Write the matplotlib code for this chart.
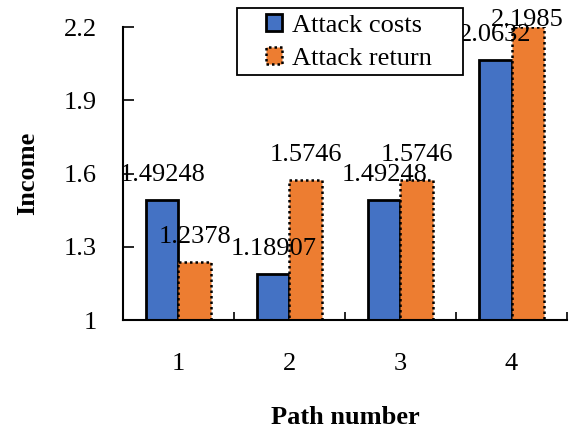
import matplotlib
matplotlib.use("Agg")
import matplotlib.pyplot as plt
from matplotlib.patches import Rectangle
import numpy as np

paths = ["1", "2", "3", "4"]
attack_costs = [1.49248, 1.18907, 1.49248, 2.0632]
attack_return = [1.2378, 1.5746, 1.5746, 2.1985]
cost_labels = ["1.49248", "1.18907", "1.49248", "2.0632"]
return_labels = ["1.2378", "1.5746", "1.5746", "2.1985"]
y_ticks = [1, 1.3, 1.6, 1.9, 2.2]
y_tick_labels = ["1", "1.3", "1.6", "1.9", "2.2"]

plt.rcParams["font.family"] = ["Liberation Serif", "DejaVu Serif"]

fig = plt.figure(figsize=(5.71, 4.28), dpi=100)
ax = fig.add_axes([0.2154, 0.2523, 0.7776, 0.6846])

x = np.arange(len(paths))
w = 0.29
blue = "#4472C4"
orange = "#ED7D31"

ax.bar(x - w / 2, [v - 1 for v in attack_costs], w, bottom=1,
       color=blue, edgecolor="black", linewidth=2.0, label="Attack costs")
ax.bar(x + w / 2, [v - 1 for v in attack_return], w, bottom=1,
       color=orange, edgecolor="black", linewidth=1.8, linestyle=(0, (1, 1.2)),
       label="Attack return")

ax.set_xlim(-0.5, len(paths) - 0.5)
ax.set_ylim(1, 2.2)

# value labels sit 19 px above each bar, but never run past the top of the figure
fig_h_px = fig.get_figheight() * fig.dpi
max_baseline = fig_h_px - 26


def label_bar(xi, v, t):
    top_px = ax.transData.transform((xi, v))[1]
    off = min(19, max_baseline - top_px)
    ax.annotate(t, (xi, v), xytext=(0, off), textcoords="offset pixels",
                ha="center", va="baseline", fontsize=19)


for xi, v, t in zip(x - w / 2, attack_costs, cost_labels):
    label_bar(xi, v, t)
for xi, v, t in zip(x + w / 2, attack_return, return_labels):
    label_bar(xi, v, t)

ax.set_yticks(y_ticks)
ax.set_yticklabels(y_tick_labels, fontsize=19)
ax.set_xticks(x)
ax.set_xticklabels(paths, fontsize=19)
ax.tick_params(axis="x", length=0, pad=24)
ax.set_xticks(np.arange(0.5, len(paths), 1), minor=True)
ax.tick_params(axis="x", which="minor", direction="in", length=6, width=1.2)
ax.tick_params(axis="y", direction="in", length=8, width=1.2, pad=19)

for s in ["top", "right"]:
    ax.spines[s].set_visible(False)
ax.spines["left"].set_linewidth(1.5)
ax.spines["bottom"].set_linewidth(1.5)

ax.set_ylabel("Income", fontsize=19, fontweight="bold")
ax.yaxis.set_label_coords(-0.19, 0.5)
ax.set_xlabel("Path number", fontsize=19, fontweight="bold")
ax.xaxis.set_label_coords(0.5, -0.294)

# legend frame drawn separately so its padding can differ per side
frame = Rectangle((237 / 571, 1 - 75 / 428), 226 / 571, 67 / 428,
                  transform=fig.transFigure, fill=True, facecolor="white",
                  edgecolor="black", linewidth=1.3, zorder=4, clip_on=False)
ax.add_patch(frame)
leg = ax.legend(loc="center", bbox_to_anchor=(349 / 571, 1 - 42 / 428),
                bbox_transform=fig.transFigure, fontsize=19, frameon=False,
                handlelength=0.6, handleheight=0.6, handletextpad=0.4,
                borderpad=0.0, labelspacing=0.4)
leg.set_zorder(5)

fig.savefig("out.png", dpi=100)
